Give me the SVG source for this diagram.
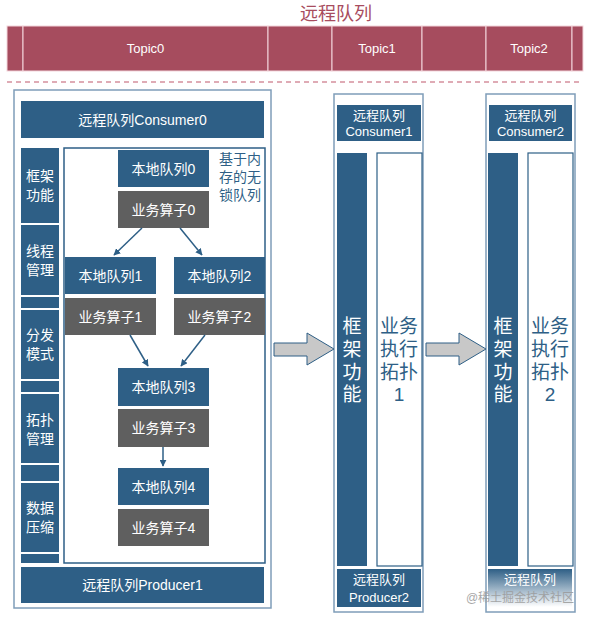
<svg xmlns="http://www.w3.org/2000/svg" width="593" height="622" viewBox="0 0 593 622">
<style>
text{font-family:"Liberation Sans","Noto Sans CJK SC",sans-serif;text-anchor:middle;dominant-baseline:central}
.w{fill:#fff}
.b{fill:#2e5f86}
.g{fill:#5f5f5f}
.blue{fill:#2e5f86}
.topic{fill:#a64c5e;stroke:#f3d6dc;stroke-width:1}
.outer{fill:#fff;stroke:#7f9db9;stroke-width:1.5}
.inner{fill:#fff;stroke:#2e5f86;stroke-width:1.5}
.t14{font-size:14px}
.t13{font-size:13px}
.t20{font-size:19px}
.conn{stroke:#2e5f86;stroke-width:1.5;fill:none;marker-end:url(#ah)}
.big{fill:#c8c8c8;stroke:#2e5f86;stroke-width:1}
</style>
<defs>
<marker id="ah" viewBox="0 0 10 10" refX="9" refY="5" markerWidth="7" markerHeight="7" orient="auto" markerUnits="userSpaceOnUse">
<path d="M0,0 L10,5 L0,10 z" fill="#2e5f86"/>
</marker>
<linearGradient id="fade" x1="0" y1="0" x2="0" y2="1">
<stop offset="0" stop-color="#2e5f86"/>
<stop offset="1" stop-color="#2e5f86" stop-opacity="0"/>
</linearGradient>
</defs>

<g id="title"><text x="336" y="14" style="font-size:18px;fill:#a84c5e">远程队列</text></g>

<g id="topics">
<rect class="topic" x="7" y="26" width="16" height="45"/>
<rect class="topic" x="23" y="26" width="245" height="45"/>
<rect class="topic" x="268" y="26" width="64" height="45"/>
<rect class="topic" x="332" y="26" width="90" height="45"/>
<rect class="topic" x="422" y="26" width="64" height="45"/>
<rect class="topic" x="486" y="26" width="86" height="45"/>
<rect class="topic" x="572" y="26" width="11" height="45"/>
<text class="w t13" x="145.5" y="48.5">Topic0</text>
<text class="w t13" x="377" y="48.5">Topic1</text>
<text class="w t13" x="529" y="48.5">Topic2</text>
</g>
<line x1="7" y1="82" x2="583" y2="82" stroke="#c0586c" stroke-width="1.2" stroke-dasharray="5,4"/>

<g id="worker0">
<rect class="outer" x="14" y="90" width="257" height="518"/>
<rect class="b" x="21" y="101" width="243" height="37"/>
<text class="w t14" x="142.5" y="119.5">远程队列Consumer0</text>
<rect class="b" x="21" y="148" width="38" height="75"/>
<text class="w t14" x="40" y="176">框架</text><text class="w t14" x="40" y="195">功能</text>
<rect class="b" x="21" y="225" width="38" height="70"/>
<text class="w t14" x="40" y="251">线程</text><text class="w t14" x="40" y="270">管理</text>
<rect class="b" x="21" y="297" width="38" height="11"/>
<rect class="b" x="21" y="310" width="38" height="69"/>
<text class="w t14" x="40" y="335">分发</text><text class="w t14" x="40" y="354">模式</text>
<rect class="b" x="21" y="381" width="38" height="11"/>
<rect class="b" x="21" y="394" width="38" height="69"/>
<text class="w t14" x="40" y="420">拓扑</text><text class="w t14" x="40" y="439">管理</text>
<rect class="b" x="21" y="465" width="38" height="16"/>
<rect class="b" x="21" y="483" width="38" height="69"/>
<text class="w t14" x="40" y="508">数据</text><text class="w t14" x="40" y="527">压缩</text>
<rect class="b" x="21" y="554" width="38" height="9"/>
<rect class="inner" x="64" y="148" width="201" height="415"/>
<rect class="b" x="21" y="567" width="243" height="36"/>
<text class="w t14" x="142.5" y="585">远程队列Producer1</text>
<text class="blue t14" x="240" y="159">基于内</text>
<text class="blue t14" x="240" y="177">存的无</text>
<text class="blue t14" x="240" y="195">锁队列</text>
</g>

<g id="q0"><rect class="b" x="118" y="150" width="91" height="37"/><text class="w t14" x="163.5" y="168.5">本地队列0</text></g>
<g id="op0"><rect class="g" x="118" y="191" width="91" height="37"/><text class="w t14" x="163.5" y="209.5">业务算子0</text></g>
<g id="q1"><rect class="b" x="65" y="257" width="91" height="37"/><text class="w t14" x="110.5" y="275.5">本地队列1</text></g>
<g id="op1"><rect class="g" x="65" y="298" width="91" height="37"/><text class="w t14" x="110.5" y="316.5">业务算子1</text></g>
<g id="q2"><rect class="b" x="174" y="257" width="91" height="37"/><text class="w t14" x="219.5" y="275.5">本地队列2</text></g>
<g id="op2"><rect class="g" x="174" y="298" width="91" height="37"/><text class="w t14" x="219.5" y="316.5">业务算子2</text></g>
<g id="q3"><rect class="b" x="118" y="368" width="91" height="38"/><text class="w t14" x="163.5" y="387">本地队列3</text></g>
<g id="op3"><rect class="g" x="118" y="409" width="91" height="38"/><text class="w t14" x="163.5" y="428">业务算子3</text></g>
<g id="q4"><rect class="b" x="118" y="468" width="91" height="37"/><text class="w t14" x="163.5" y="486.5">本地队列4</text></g>
<g id="op4"><rect class="g" x="118" y="509" width="91" height="37"/><text class="w t14" x="163.5" y="527.5">业务算子4</text></g>

<g id="worker1">
<rect class="outer" x="334" y="94" width="89" height="518"/>
<rect class="b" x="337" y="105" width="84" height="36"/>
<text class="w t13" x="379" y="115">远程队列</text><text class="w t13" x="379" y="131">Consumer1</text>
<rect class="b" x="337" y="153" width="30" height="413"/>
<text class="w t20" x="352" y="326">框</text><text class="w t20" x="352" y="349">架</text><text class="w t20" x="352" y="372">功</text><text class="w t20" x="352" y="394">能</text>
<rect class="inner" x="377" y="153" width="45" height="413" style="stroke-width:1.2"/>
<text class="blue t20" x="399" y="326">业务</text><text class="blue t20" x="399" y="349">执行</text><text class="blue t20" x="399" y="372">拓扑</text><text class="blue t20" x="399" y="394">1</text>
<rect class="b" x="337" y="569" width="84" height="38"/>
<text class="w t13" x="379" y="579">远程队列</text><text class="w t13" x="379" y="597">Producer2</text>
</g>

<g id="worker2">
<rect class="outer" x="486" y="94" width="89" height="518"/>
<rect class="b" x="489" y="105" width="83" height="36"/>
<text class="w t13" x="530.5" y="115">远程队列</text><text class="w t13" x="530.5" y="131">Consumer2</text>
<rect class="b" x="488" y="153" width="30" height="413"/>
<text class="w t20" x="503" y="326">框</text><text class="w t20" x="503" y="349">架</text><text class="w t20" x="503" y="372">功</text><text class="w t20" x="503" y="394">能</text>
<rect class="inner" x="528" y="153" width="45" height="413" style="stroke-width:1.2"/>
<text class="blue t20" x="550" y="326">业务</text><text class="blue t20" x="550" y="349">执行</text><text class="blue t20" x="550" y="372">拓扑</text><text class="blue t20" x="550" y="394">2</text>
<rect x="488" y="569" width="84" height="38" fill="url(#fade)"/>
<text class="w t13" x="530" y="579">远程队列</text>
</g>

<g id="connectors">
<line class="conn" x1="142" y1="228" x2="114" y2="255"/>
<line class="conn" x1="180" y1="228" x2="202" y2="255"/>
<line class="conn" x1="130" y1="335" x2="148" y2="366"/>
<line class="conn" x1="205" y1="335" x2="181" y2="366"/>
<line class="conn" x1="163" y1="447" x2="163" y2="466"/>
<path class="big" d="M274,343 L307,343 L307,333 L334,349 L307,365 L307,356 L274,356 Z"/>
<path class="big" d="M426,343 L459,343 L459,333 L486,349 L459,365 L459,356 L426,356 Z"/>
</g>

<text x="520" y="598" style="font-size:12px;fill:#9a9a9a;opacity:0.85">@稀土掘金技术社区</text>
</svg>
